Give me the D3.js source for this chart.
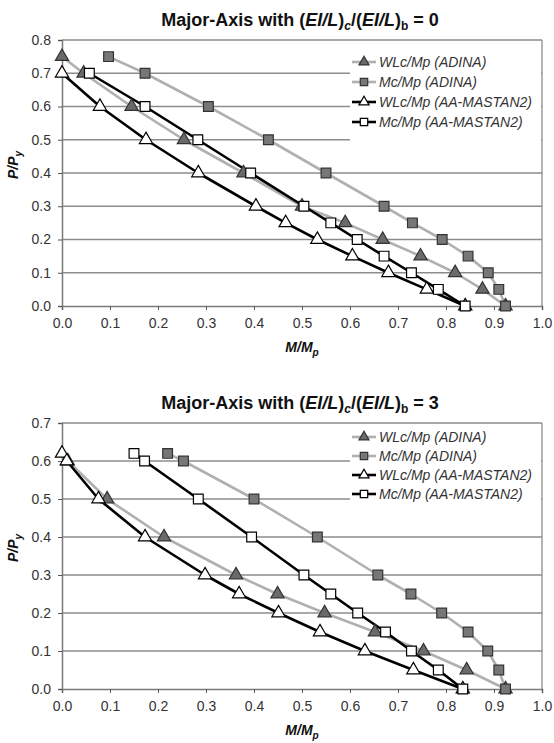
<!DOCTYPE html>
<html lang="en">
  <head>
    <meta charset="utf-8">
    <title>Major-Axis interaction curves</title>
    <script src="https://d3js.org/d3.v7.min.js"></script>
    <style media="screen" type="text/css">
      body { margin: 0; background: #fff; }
      svg { font-family: Arial, "Liberation Sans", sans-serif; }
      .tick text { fill: #333; font-size: 14px; }
    </style>
  </head>
  <body>
    <div id="main"></div>
    <script type="text/javascript">
      // Data: [M/Mp, P/Py]
      const seriesNames = ['WLc/Mp (ADINA)', 'Mc/Mp (ADINA)', 'WLc/Mp (AA-MASTAN2)', 'Mc/Mp (AA-MASTAN2)'];
      const xTicks = [0, 0.1, 0.2, 0.3, 0.4, 0.5, 0.6, 0.7, 0.8, 0.9, 1.0];
      const yTicksTop = [0, 0.1, 0.2, 0.3, 0.4, 0.5, 0.6, 0.7, 0.8];
      const yTicksBottom = [0, 0.1, 0.2, 0.3, 0.4, 0.5, 0.6, 0.7];

      // ratio = 0
      const top_wlcAdina = [[0, 0.75], [0.045, 0.70], [0.145, 0.60], [0.254, 0.50], [0.378, 0.40], [0.50, 0.30],
        [0.59, 0.25], [0.668, 0.20], [0.747, 0.15], [0.819, 0.10], [0.876, 0.05], [0.924, 0]];
      const top_mcAdina = [[0.097, 0.75], [0.173, 0.70], [0.305, 0.60], [0.43, 0.50], [0.55, 0.40], [0.671, 0.30],
        [0.73, 0.25], [0.792, 0.20], [0.846, 0.15], [0.888, 0.10], [0.91, 0.05], [0.924, 0]];
      const top_wlcAA = [[0, 0.70], [0.079, 0.60], [0.175, 0.50], [0.284, 0.40], [0.404, 0.30], [0.466, 0.25],
        [0.532, 0.20], [0.605, 0.15], [0.68, 0.10], [0.76, 0.05], [0.84, 0]];
      const top_mcAA = [[0.057, 0.70], [0.173, 0.60], [0.283, 0.50], [0.393, 0.40], [0.504, 0.30], [0.56, 0.25],
        [0.615, 0.20], [0.671, 0.15], [0.728, 0.10], [0.784, 0.05], [0.84, 0]];

      // ratio = 3
      const bot_wlcAdina = [[0.012, 0.60], [0.094, 0.50], [0.2125, 0.40], [0.3625, 0.30], [0.449, 0.25], [0.547, 0.20],
        [0.652, 0.15], [0.753, 0.10], [0.843, 0.05], [0.924, 0]];
      const bot_mcAdina = [[0.22, 0.62], [0.253, 0.60], [0.40, 0.50], [0.532, 0.40], [0.658, 0.30], [0.727, 0.25],
        [0.791, 0.20], [0.846, 0.15], [0.887, 0.10], [0.91, 0.05], [0.924, 0]];
      const bot_wlcAA = [[0, 0.62], [0.01, 0.60], [0.076, 0.50], [0.173, 0.40], [0.298, 0.30], [0.369, 0.25],
        [0.451, 0.20], [0.5375, 0.15], [0.631, 0.10], [0.732, 0.05], [0.835, 0]];
      const bot_mcAA = [[0.15, 0.62], [0.172, 0.60], [0.284, 0.50], [0.395, 0.40], [0.504, 0.30], [0.56, 0.25],
        [0.616, 0.20], [0.674, 0.15], [0.728, 0.10], [0.784, 0.05], [0.835, 0]];

      // Styles per series (order = drawing order)
      const styles = [
        { line: '#b0b0b0', shape: 'tri', fill: '#6a6a6a', stroke: '#333' },
        { line: '#b0b0b0', shape: 'sq', fill: '#777', stroke: '#333' },
        { line: '#000', shape: 'tri', fill: '#fff', stroke: '#000' },
        { line: '#000', shape: 'sq', fill: '#fff', stroke: '#000' }
      ];

      const svg = d3.select('#main').append('svg')
        .attr('width', 554)
        .attr('height', 743);

      function marker(sel, st, size) {
        const type = st.shape === 'tri' ? d3.symbolTriangle : d3.symbolSquare;
        const area = st.shape === 'tri' ? size * 0.8 : size;
        sel.append('path')
          .attr('d', d3.symbol().type(type).size(area)())
          .attr('fill', st.fill)
          .attr('stroke', st.stroke)
          .attr('stroke-width', 1.2);
      }

      function drawChart(opts) {
        const x = d3.scaleLinear().domain([0, 1]).range([62, 542]);
        const y = d3.scaleLinear().domain([0, opts.yMax]).range([opts.bottom, opts.top]);
        const g = svg.append('g');

        // title
        const t = g.append('text')
          .attr('x', 300).attr('y', opts.top - 14)
          .attr('text-anchor', 'middle')
          .attr('font-size', 18).attr('font-weight', 'bold').attr('fill', '#111');
        t.append('tspan').text('Major-Axis with (');
        t.append('tspan').attr('font-style', 'italic').text('EI/L');
        t.append('tspan').text(')');
        t.append('tspan').attr('font-size', 12).attr('font-style', 'italic').attr('dy', 4).text('c');
        t.append('tspan').attr('dy', -4).text('/(');
        t.append('tspan').attr('font-style', 'italic').text('EI/L');
        t.append('tspan').text(')');
        t.append('tspan').attr('font-size', 12).attr('dy', 4).text('b');
        t.append('tspan').attr('dy', -4).text(' = ' + opts.ratio);

        // gridlines
        g.append('g').selectAll('line')
          .data(opts.yTicks.filter(d => d > 0))
          .join('line')
          .attr('x1', x(0)).attr('x2', x(1))
          .attr('y1', d => y(d)).attr('y2', d => y(d))
          .attr('stroke', '#8c8c8c').attr('stroke-width', 1.3);

        // plot border (right)
        g.append('line')
          .attr('x1', x(1)).attr('x2', x(1)).attr('y1', y(opts.yMax)).attr('y2', y(0))
          .attr('stroke', '#8c8c8c').attr('stroke-width', 1.3);

        // axes
        const xAxis = g.append('g')
          .attr('transform', `translate(0,${y(0)})`)
          .call(d3.axisBottom(x).tickValues(xTicks).tickFormat(d3.format('.1f')).tickSize(4).tickPadding(8));
        const yAxis = g.append('g')
          .attr('transform', `translate(${x(0)},0)`)
          .call(d3.axisLeft(y).tickValues(opts.yTicks).tickFormat(d3.format('.1f')).tickSize(4).tickPadding(7));
        [xAxis, yAxis].forEach(a => {
          a.select('.domain').attr('stroke', '#7a7a7a').attr('stroke-width', 1.5);
          a.selectAll('.tick line').attr('stroke', '#555');
          a.selectAll('.tick text').attr('font-size', 14).attr('fill', '#333');
        });

        // axis titles
        const xt = g.append('text')
          .attr('x', 302).attr('y', y(0) + 46)
          .attr('text-anchor', 'middle')
          .attr('font-size', 14).attr('font-weight', 'bold').attr('font-style', 'italic').attr('fill', '#111');
        xt.append('tspan').text('M/M');
        xt.append('tspan').attr('font-size', 10).attr('dy', 4).text('p');

        const ymid = (y(0) + y(opts.yMax)) / 2 - 8;
        const yt = g.append('text')
          .attr('transform', `translate(18,${ymid}) rotate(-90)`)
          .attr('text-anchor', 'middle')
          .attr('font-size', 14).attr('font-weight', 'bold').attr('font-style', 'italic').attr('fill', '#111');
        yt.append('tspan').text('P/P');
        yt.append('tspan').attr('font-size', 10).attr('dy', 4).text('y');

        // legend background (covers gridlines)
        g.append('rect')
          .attr('x', 350).attr('y', y(opts.yMax) + 2)
          .attr('width', x(1) - 351).attr('height', opts.legendTop - y(opts.yMax) + 4 * opts.legendStep - 2)
          .attr('fill', '#fff');

        // series
        const line = d3.line().x(d => x(d[0])).y(d => y(d[1]));
        opts.series.forEach((data, i) => {
          const st = styles[i];
          g.append('path')
            .datum(data)
            .attr('d', line)
            .attr('fill', 'none')
            .attr('stroke', st.line)
            .attr('stroke-width', 2.6)
            .attr('stroke-linejoin', 'round');
        });
        opts.series.forEach((data, i) => {
          const st = styles[i];
          g.append('g').selectAll('g')
            .data(data)
            .join('g')
            .attr('transform', d => `translate(${x(d[0])},${y(d[1])})`)
            .each(function () { marker(d3.select(this), st, 95); });
        });

        // legend
        seriesNames.forEach((name, i) => {
          const st = styles[i];
          const ly = opts.legendTop + i * opts.legendStep;
          const lg = g.append('g').attr('transform', `translate(0,${ly})`);
          lg.append('line')
            .attr('x1', 352).attr('x2', 376).attr('y1', 0).attr('y2', 0)
            .attr('stroke', st.line).attr('stroke-width', 2.6);
          lg.append('g').attr('transform', 'translate(364,0)').call(s => marker(s, st, 55));
          lg.append('text')
            .attr('x', 379).attr('y', 5)
            .attr('font-size', 14).attr('font-style', 'italic').attr('fill', '#333')
            .text(name);
        });
      }

      drawChart({
        top: 40, bottom: 306, yMax: 0.8, yTicks: yTicksTop, ratio: 0,
        legendTop: 62, legendStep: 20,
        series: [top_wlcAdina, top_mcAdina, top_wlcAA, top_mcAA]
      });
      drawChart({
        top: 423, bottom: 689, yMax: 0.7, yTicks: yTicksBottom, ratio: 3,
        legendTop: 437, legendStep: 19,
        series: [bot_wlcAdina, bot_mcAdina, bot_wlcAA, bot_mcAA]
      });
    </script>
  </body>
</html>
